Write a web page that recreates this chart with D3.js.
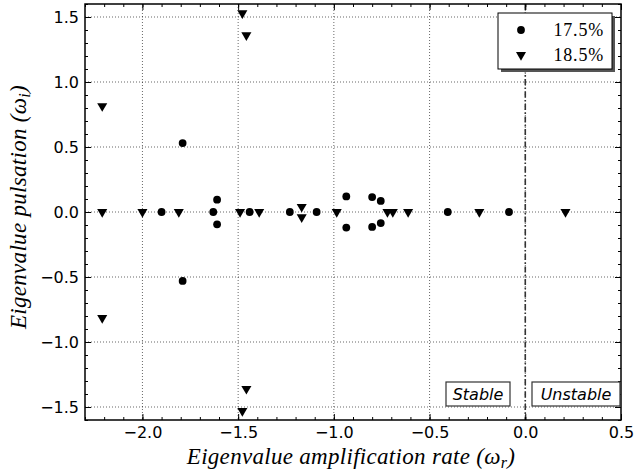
<!DOCTYPE html>
<html>
<head>
<meta charset="utf-8">
<script src="https://cdn.jsdelivr.net/npm/d3@7"></script>
<style>
  body { margin: 0; background: #fff; }
  svg { display: block; }
</style>
</head>
<body>
<div id="chart"></div>
<script>
// eigenvalues, 17.5% case (circles)
const circleRe = [-1.90, -1.79, -1.79, -1.63, -1.61, -1.61, -1.44, -1.23, -1.09, -0.935, -0.935, -0.80, -0.80, -0.755, -0.755, -0.405, -0.085];
const circleIm = [0, 0.53, -0.53, 0, 0.095, -0.095, 0, 0, 0, 0.12, -0.12, 0.115, -0.115, 0.085, -0.085, 0, 0];

// eigenvalues, 18.5% case (triangles)
const triRe = [-2.21, -2.21, -2.21, -2.0, -1.81, -1.49, -1.478, -1.478, -1.457, -1.457, -1.39, -1.168, -1.168, -0.985, -0.72, -0.692, -0.612, -0.24, 0.21];
const triIm = [0, 0.815, -0.815, 0, 0, 0, 1.53, -1.53, 1.36, -1.36, 0, 0.04, -0.04, 0, 0, 0, 0, 0, 0];

const seriesNames = ['17.5%', '18.5%'];
const xTicks = [-2.0, -1.5, -1.0, -0.5, 0.0, 0.5];
const yTicks = [-1.5, -1.0, -0.5, 0.0, 0.5, 1.0, 1.5];

const W = 637, H = 475;
const margin = { top: 4, right: 16, bottom: 55, left: 85 };
const width = W - margin.left - margin.right;
const height = H - margin.top - margin.bottom;

const svg = d3.select('#chart').append('svg')
    .attr('width', W)
    .attr('height', H);

const g = svg.append('g')
    .attr('transform', `translate(${margin.left},${margin.top})`);

const x = d3.scaleLinear().domain([-2.3, 0.5]).range([0, width]);
const y = d3.scaleLinear().domain([-1.6, 1.6]).range([height, 0]);

// grid
g.append('g').selectAll('line')
    .data(xTicks.filter(d => d > -2.3 && d < 0.5))
    .join('line')
    .attr('x1', d => x(d)).attr('x2', d => x(d))
    .attr('y1', 0).attr('y2', height)
    .attr('stroke', '#000').attr('stroke-width', 0.6)
    .attr('stroke-dasharray', '1,2');
g.append('g').selectAll('line')
    .data(yTicks)
    .join('line')
    .attr('y1', d => y(d)).attr('y2', d => y(d))
    .attr('x1', 0).attr('x2', width)
    .attr('stroke', '#000').attr('stroke-width', 0.6)
    .attr('stroke-dasharray', '1,2');

// stability boundary
g.append('line')
    .attr('x1', x(0)).attr('x2', x(0))
    .attr('y1', 0).attr('y2', height)
    .attr('stroke', '#333').attr('stroke-width', 1.6)
    .attr('stroke-dasharray', '6,2.5,1.5,2.5');

// axes with inward ticks
const xMinor = d3.range(-23, 6).map(d => d / 10);
const yMinor = d3.range(-16, 17).map(d => d / 10);
const fmt = d => (d < 0 ? '\u2212' : '') + Math.abs(d).toFixed(1);

function tickAxis(axisFn, scale, major, minor, transform, withLabels, pad) {
    g.append('g').attr('transform', transform)
        .call(axisFn(scale).tickValues(minor).tickSize(-3).tickFormat(''))
        .call(s => s.select('.domain').remove());
    const a = g.append('g').attr('transform', transform)
        .call(axisFn(scale).tickValues(major).tickSize(-6).tickPadding(pad)
            .tickFormat(withLabels ? fmt : ''));
    a.select('.domain').remove();
    a.selectAll('text')
        .attr('font-family', 'DejaVu Sans, sans-serif')
        .attr('font-size', 16)
        .attr('fill', '#000');
    return a;
}
tickAxis(d3.axisBottom, x, xTicks, xMinor, `translate(0,${height})`, true, 7);
tickAxis(d3.axisTop, x, xTicks, xMinor, 'translate(0,0)', false, 7);
tickAxis(d3.axisLeft, y, yTicks, yMinor, 'translate(0,0)', true, 6);
tickAxis(d3.axisRight, y, yTicks, yMinor, `translate(${width},0)`, false, 6);

g.append('rect')
    .attr('width', width).attr('height', height)
    .attr('fill', 'none').attr('stroke', '#000').attr('stroke-width', 1.5);

// points
const circles = circleRe.map((re, i) => ({ re, im: circleIm[i] }));
const tris = triRe.map((re, i) => ({ re, im: triIm[i] }));

g.append('g').selectAll('circle')
    .data(circles)
    .join('circle')
    .attr('cx', d => x(d.re))
    .attr('cy', d => y(d.im))
    .attr('r', 3.9)
    .attr('fill', '#000');

const triShape = d3.symbol().type(d3.symbolTriangle).size(44);
g.append('g').selectAll('path')
    .data(tris)
    .join('path')
    .attr('d', triShape)
    .attr('transform', d => `translate(${x(d.re)},${y(d.im)}) rotate(180)`)
    .attr('fill', '#000');

// Stable / Unstable boxes
function labelBox(text, x0, x1) {
    const yb = 378;
    g.append('rect')
        .attr('x', x0).attr('y', yb)
        .attr('width', x1 - x0).attr('height', 24)
        .attr('fill', '#fff').attr('stroke', '#333').attr('stroke-width', 1.2);
    g.append('text')
        .attr('x', (x0 + x1) / 2).attr('y', yb + 18)
        .attr('text-anchor', 'middle')
        .attr('font-family', 'DejaVu Sans, sans-serif')
        .attr('font-style', 'oblique')
        .attr('font-size', 16)
        .text(text);
}
labelBox('Stable', 361, 425);
labelBox('Unstable', 447, 535);

// legend
const lg = g.append('g').attr('transform', 'translate(413,9)');
lg.append('rect')
    .attr('x', 3).attr('y', 3).attr('width', 114).attr('height', 56)
    .attr('fill', '#555');
lg.append('rect')
    .attr('width', 114).attr('height', 56)
    .attr('fill', '#fff').attr('stroke', '#000').attr('stroke-width', 1);
seriesNames.forEach((name, i) => {
    const cy = 17 + i * 25;
    if (i === 0) {
        lg.append('circle').attr('cx', 23).attr('cy', cy).attr('r', 3.9).attr('fill', '#000');
    } else {
        lg.append('path').attr('d', triShape)
            .attr('transform', `translate(23,${cy}) rotate(180)`).attr('fill', '#000');
    }
    lg.append('text')
        .attr('x', 106).attr('y', cy + 6)
        .attr('text-anchor', 'end')
        .attr('font-family', 'Liberation Serif, serif')
        .attr('font-size', 18)
        .attr('letter-spacing', 0.8)
        .text(name);
});

// axis titles
svg.append('text')
    .attr('x', margin.left + width / 2 - 2)
    .attr('y', 464)
    .attr('text-anchor', 'middle')
    .attr('font-family', 'Liberation Serif, serif')
    .attr('font-style', 'italic')
    .attr('font-size', 23)
    .attr('letter-spacing', 0.3)
    .html('Eigenvalue amplification rate (ω<tspan font-size="16" dy="4">r</tspan><tspan dy="-4">)</tspan>');

svg.append('text')
    .attr('transform', `translate(26,207) rotate(-90)`)
    .attr('text-anchor', 'middle')
    .attr('font-family', 'Liberation Serif, serif')
    .attr('font-style', 'italic')
    .attr('font-size', 23)
    .attr('letter-spacing', 0.3)
    .html('Eigenvalue pulsation (ω<tspan font-size="16" dy="4">i</tspan><tspan dy="-4">)</tspan>');
</script>
</body>
</html>
